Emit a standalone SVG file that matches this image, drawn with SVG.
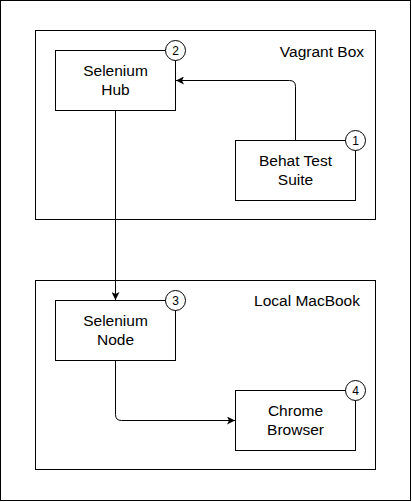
<svg xmlns="http://www.w3.org/2000/svg" width="412" height="502" viewBox="0 0 412 502">
<defs>
<style>
.box{fill:#fff;stroke:#000;stroke-width:1}
.t{font-family:"Liberation Sans",Arial,sans-serif;font-size:15.5px;fill:#000;text-anchor:middle}
.lbl{font-family:"Liberation Sans",Arial,sans-serif;font-size:15.5px;fill:#000;text-anchor:end}
.badge{fill:#fff;stroke:#000;stroke-width:1}
.num{font-family:"Liberation Sans",Arial,sans-serif;font-size:12px;fill:#000;text-anchor:middle}
.edge{fill:none;stroke:#000;stroke-width:1}
</style>
<marker id="arrow" viewBox="0 0 10 10" refX="10" refY="5" markerWidth="8" markerHeight="8" markerUnits="userSpaceOnUse" orient="auto">
<path d="M0,0 L10,5 L0,10 L2.5,5 Z" fill="#000"/>
</marker>
</defs>
<rect x="0.5" y="0.5" width="410" height="500" fill="#fff" stroke="#000"/>
<g id="vagrant-box">
<rect class="box" x="35.5" y="30.5" width="340" height="189"/>
<text class="lbl" x="364" y="56.5">Vagrant Box</text>
</g>
<g id="local-macbook">
<rect class="box" x="35.5" y="280.5" width="340" height="189"/>
<text class="lbl" x="360" y="305.5">Local MacBook</text>
</g>
<g id="connectors">
<path class="edge" d="M295.5 140.5 V86.5 Q295.5 80.5 289.5 80.5 H176" marker-end="url(#arrow)"/>
<path class="edge" d="M115.5 110.5 V300" marker-end="url(#arrow)"/>
<path class="edge" d="M115.5 360.5 V414.5 Q115.5 420.5 121.5 420.5 H235" marker-end="url(#arrow)"/>
</g>
<g id="selenium-hub">
<rect class="box" x="55.5" y="50.5" width="120" height="60"/>
<text class="t" x="115.5" y="75.5">Selenium</text>
<text class="t" x="115.5" y="95">Hub</text>
<circle class="badge" cx="175.5" cy="50.5" r="10"/>
<text class="num" x="175.5" y="54.7">2</text>
</g>
<g id="behat-test-suite">
<rect class="box" x="235.5" y="140.5" width="120" height="60"/>
<text class="t" x="295.5" y="165.5">Behat Test</text>
<text class="t" x="295.5" y="185">Suite</text>
<circle class="badge" cx="355.5" cy="140.5" r="10"/>
<text class="num" x="355.5" y="144.7">1</text>
</g>
<g id="selenium-node">
<rect class="box" x="55.5" y="300.5" width="120" height="60"/>
<text class="t" x="115.5" y="325.5">Selenium</text>
<text class="t" x="115.5" y="345">Node</text>
<circle class="badge" cx="175.5" cy="300.5" r="10"/>
<text class="num" x="175.5" y="304.7">3</text>
</g>
<g id="chrome-browser">
<rect class="box" x="235.5" y="390.5" width="120" height="60"/>
<text class="t" x="295.5" y="415.5">Chrome</text>
<text class="t" x="295.5" y="435">Browser</text>
<circle class="badge" cx="355.5" cy="390.5" r="10"/>
<text class="num" x="355.5" y="394.7">4</text>
</g>
</svg>
